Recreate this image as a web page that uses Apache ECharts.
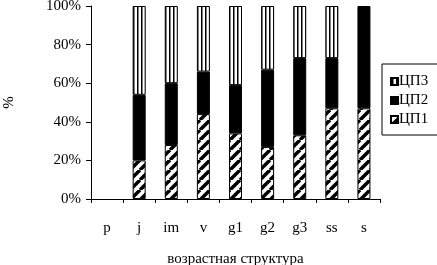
<!DOCTYPE html>
<html>
<head>
<meta charset="utf-8">
<script src="https://cdn.jsdelivr.net/npm/echarts@6/dist/echarts.min.js"></script>
<style>
  html, body { margin: 0; padding: 0; background: #fff; }
  #chart { width: 437px; height: 265px; }
</style>
</head>
<body>
<div id="chart"></div>
<script>
const categories = ['p', 'j', 'im', 'v', 'g1', 'g2', 'g3', 'ss', 's'];
const cp1 = [null, 20, 28, 44, 34, 27, 33, 47, 47];
const cp2 = [null, 34, 32, 22, 25, 40, 40, 26, 53];
const cp3 = [null, 46, 40, 34, 41, 33, 27, 27, null];
const yTicks = [0, 20, 40, 60, 80, 100];

const FONT = 'Liberation Serif';

function makeTile(size, draw) {
  const c = document.createElement('canvas');
  c.width = size;
  c.height = size;
  const ctx = c.getContext('2d');
  ctx.fillStyle = '#fff';
  ctx.fillRect(0, 0, size, size);
  draw(ctx, size);
  return c;
}

// vertical stripes
const vertTile = makeTile(4, (ctx, s) => {
  ctx.fillStyle = '#000';
  ctx.fillRect(1, 0, 1.5, s);
});

// diagonal stripes, lower-left to upper-right
const diagTile = makeTile(10, (ctx, s) => {
  ctx.strokeStyle = '#000';
  ctx.lineWidth = 3.5;
  ctx.beginPath();
  for (let k = -1; k <= 1; k++) {
    ctx.moveTo(k * s, s);
    ctx.lineTo(k * s + s, 0);
  }
  ctx.stroke();
});

const border = { borderColor: '#000', borderWidth: 1 };

const chart = echarts.init(document.getElementById('chart'), null, { renderer: 'canvas' });
chart.setOption({
  animation: false,
  textStyle: { fontFamily: FONT, color: '#000' },
  grid: { left: 91, right: 57, top: 6, bottom: 66, containLabel: false, outerBoundsMode: 'none' },
  legend: {
    orient: 'vertical',
    left: 382,
    top: 64,
    data: ['ЦП3', 'ЦП2', 'ЦП1'],
    icon: 'rect',
    itemWidth: 7,
    itemHeight: 7,
    itemGap: 4,
    padding: [10, 12, 8, 8],
    borderColor: '#000',
    borderWidth: 1,
    textStyle: { fontFamily: FONT, fontSize: 15, color: '#000', padding: [0, 0, 0, -4] },
  },
  xAxis: {
    type: 'category',
    data: categories,
    name: 'возрастная структура',
    nameLocation: 'middle',
    nameGap: 53,
    nameTextStyle: { fontFamily: FONT, fontSize: 15, color: '#000' },
    axisLine: { lineStyle: { color: '#000', width: 1 } },
    axisTick: { show: true, length: 4, lineStyle: { color: '#000' } },
    axisLabel: { fontFamily: FONT, fontSize: 15, color: '#000', margin: 22 },
    splitLine: { show: false },
  },
  yAxis: {
    type: 'value',
    min: yTicks[0],
    max: yTicks[yTicks.length - 1],
    interval: 20,
    name: '%',
    nameLocation: 'middle',
    nameGap: 74,
    nameTextStyle: { fontFamily: FONT, fontSize: 15, color: '#000' },
    axisLine: { show: true, lineStyle: { color: '#000', width: 1 } },
    axisTick: { show: true, inside: false, length: 5, lineStyle: { color: '#000' } },
    axisLabel: { fontFamily: FONT, fontSize: 15, color: '#000', margin: 10, formatter: '{value}%' },
    splitLine: { show: false },
  },
  series: [
    {
      name: 'ЦП1', type: 'bar', stack: 'all', barWidth: 13, data: cp1,
      itemStyle: Object.assign({ color: { image: diagTile, repeat: 'repeat' } }, border),
    },
    {
      name: 'ЦП2', type: 'bar', stack: 'all', barWidth: 13, data: cp2,
      itemStyle: Object.assign({ color: '#000' }, border),
    },
    {
      name: 'ЦП3', type: 'bar', stack: 'all', barWidth: 13, data: cp3,
      itemStyle: Object.assign({ color: { image: vertTile, repeat: 'repeat' } }, border),
    },
  ],
});
</script>
</body>
</html>
